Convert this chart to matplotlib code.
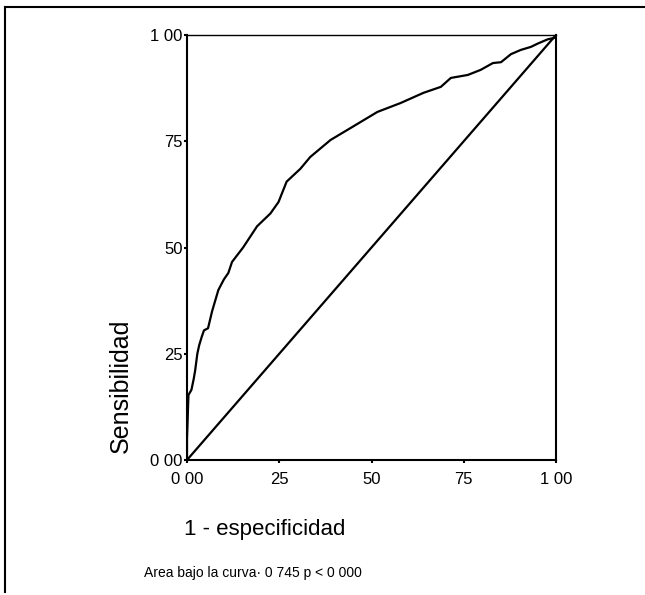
import matplotlib
matplotlib.use("Agg")
import matplotlib.pyplot as plt
from matplotlib.lines import Line2D

plt.rcParams['font.family'] = ['Liberation Sans', 'DejaVu Sans']

# ROC curve
fpr = [0.0, 0.0, 0.002, 0.003, 0.004, 0.012, 0.018, 0.022, 0.028, 0.033, 0.040,
       0.046, 0.057, 0.068, 0.085, 0.100, 0.112, 0.122, 0.152, 0.190, 0.226,
       0.248, 0.270, 0.307, 0.334, 0.389, 0.443, 0.516, 0.579, 0.641, 0.688,
       0.715, 0.761, 0.796, 0.829, 0.851, 0.878, 0.905, 0.932, 0.951, 0.978,
       0.995, 1.0]
sens = [0.0, 0.05, 0.10, 0.13, 0.153, 0.165, 0.19, 0.21, 0.25, 0.27, 0.29,
        0.305, 0.31, 0.35, 0.40, 0.425, 0.44, 0.466, 0.50, 0.55, 0.58,
        0.607, 0.655, 0.685, 0.713, 0.753, 0.781, 0.819, 0.840, 0.864, 0.878,
        0.899, 0.906, 0.918, 0.934, 0.936, 0.955, 0.965, 0.972, 0.980, 0.990,
        0.993, 1.0]
ref_x = [0.0, 1.0]
ref_y = [0.0, 1.0]

tick_vals = [0.0, 0.25, 0.5, 0.75, 1.0]
tick_labels = ["0 00", "25", "50", "75", "1 00"]

fig = plt.figure(figsize=(6.45, 5.95), dpi=100)
ax = fig.add_axes([187/645, 1-460/595, (556-187)/645, (460-35)/595])

ax.plot(fpr, sens, color='black', lw=1.6, solid_joinstyle='round')
ax.plot(ref_x, ref_y, color='black', lw=1.6)

ax.set_xlim(0, 1)
ax.set_ylim(0, 1)
ax.set_xticks(tick_vals)
ax.set_xticklabels(tick_labels, fontsize=12)
ax.set_yticks(tick_vals)
ax.set_yticklabels(tick_labels, fontsize=12)
ax.tick_params(direction='out', length=2, width=1.5)
ax.tick_params(axis='x', pad=7)
ax.tick_params(axis='y', pad=1)

for s in ['left', 'bottom', 'right']:
    ax.spines[s].set_linewidth(1.5)
ax.spines['top'].set_linewidth(1.0)

ax.set_ylabel("Sensibilidad", fontsize=18)
ax.yaxis.set_label_coords(-0.146, 0.175)

fig.text(265/645, 1-530/595, "1 - especificidad", fontsize=16,
         ha='center', va='center')
fig.text(253/645, 1-573/595, "Area bajo la curva\u00b7 0 745 p < 0 000",
         fontsize=10, ha='center', va='center')

# outer frame (top and left edges)
fig.add_artist(Line2D([5/645, 1.0], [1-7/595, 1-7/595],
                      transform=fig.transFigure, color='black', lw=1.5))
fig.add_artist(Line2D([5/645, 5/645], [1-7/595, 1-592/595],
                      transform=fig.transFigure, color='black', lw=1.5))

fig.savefig("out.png", dpi=100, facecolor='white')
